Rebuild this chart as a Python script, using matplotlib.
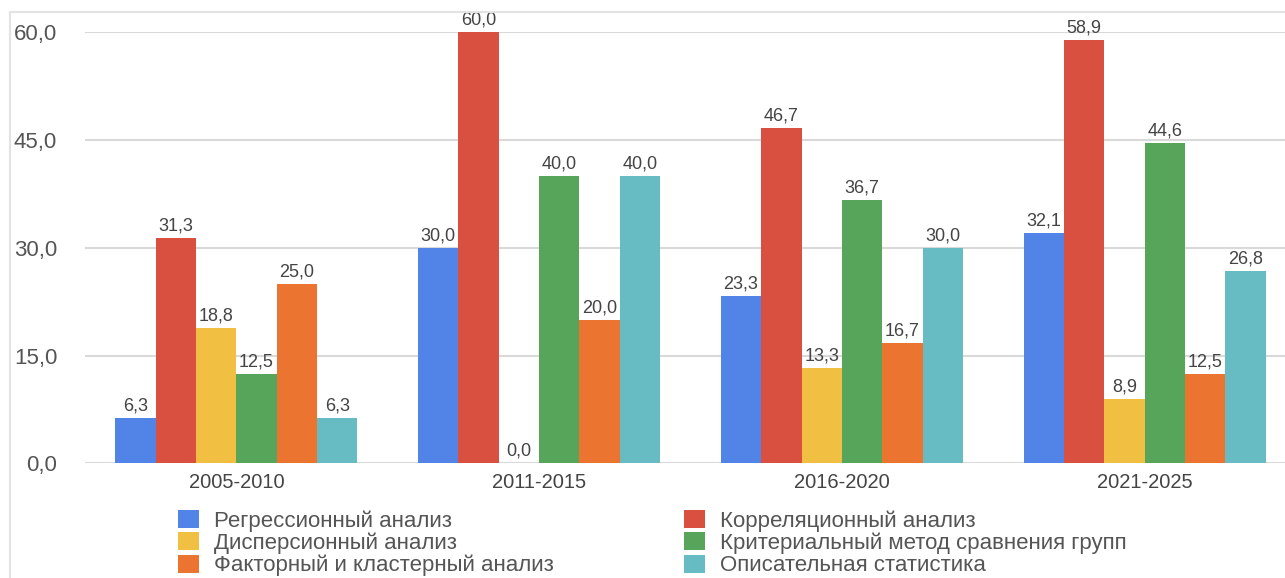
import numpy as np
import matplotlib
matplotlib.use('Agg')
import matplotlib.pyplot as plt
from matplotlib.patches import Patch, Rectangle
from matplotlib.ticker import FuncFormatter

plt.rcParams['font.family'] = ['Liberation Sans', 'DejaVu Sans']

periods = ['2005-2010', '2011-2015', '2016-2020', '2021-2025']
series = ['Регрессионный анализ', 'Корреляционный анализ', 'Дисперсионный анализ',
          'Критериальный метод сравнения групп', 'Факторный и кластерный анализ',
          'Описательная статистика']
colors = ['#5284E8', '#D94F40', '#F1BF42', '#57A55B', '#EB7530', '#67BCC4']

regress = [6.3, 30.0, 23.3, 32.1]
correl = [31.3, 60.0, 46.7, 58.9]
dispers = [18.8, 0.0, 13.3, 8.9]
criter = [12.5, 40.0, 36.7, 44.6]
factor = [25.0, 20.0, 16.7, 12.5]
descr = [6.3, 40.0, 30.0, 26.8]
values = [regress, correl, dispers, criter, factor, descr]

def comma(v):
    return f'{v:.1f}'.replace('.', ',')

fig = plt.figure(figsize=(12.85, 5.78), dpi=100)
# frame of the original chart (cropped screenshot)
fig.patches.append(Rectangle((10 / 1285, -0.1), 1.2, (578 - 12) / 578 + 0.1,
                             transform=fig.transFigure, fill=False,
                             edgecolor='#e3e3e3', linewidth=1.5))

ax = fig.add_axes([85 / 1285, (578 - 463.3) / 578, 1211 / 1285, 431 / 578])

x = np.arange(len(periods))
w = 0.8 / len(series)
for i, (vals, c) in enumerate(zip(values, colors)):
    b = ax.bar(x - 0.4 + w * (i + 0.5), vals, w, color=c, zorder=3)
    ax.bar_label(b, labels=[comma(v) for v in vals], padding=2.5,
                 fontsize=13, color='#444444')

ax.set_xlim(-0.5, len(periods) - 0.5)
ax.set_ylim(0, 60)
ax.set_yticks([0, 15, 30, 45, 60])
ax.yaxis.set_major_formatter(FuncFormatter(lambda v, p: comma(v)))
ax.set_xticks(x)
ax.set_xticklabels(periods)
ax.tick_params(axis='y', length=0, pad=20, labelsize=16, labelcolor='#555555')
ax.tick_params(axis='x', length=0, pad=7, labelsize=14.5, labelcolor='#444444')
ax.grid(axis='y', color='#d9d9d9', linewidth=1.5, zorder=0)
for s in ax.spines.values():
    s.set_visible(False)
ax.set_axisbelow(True)

col1 = [0, 2, 4]
col2 = [1, 3, 5]
for cols, xpos in [(col1, 178 / 1285), (col2, 684 / 1285)]:
    handles = [Patch(facecolor=colors[i], edgecolor='none') for i in cols]
    leg = fig.legend(handles, [series[i] for i in cols], loc='upper left',
                     bbox_to_anchor=(xpos, (578 - 510) / 578), ncol=1,
                     frameon=False, fontsize=16, handlelength=0.95,
                     handleheight=0.85, handletextpad=0.65, labelspacing=0.04,
                     borderaxespad=0, borderpad=0)
    for t in leg.get_texts():
        t.set_color('#555555')

fig.savefig('out.png', dpi=100)
